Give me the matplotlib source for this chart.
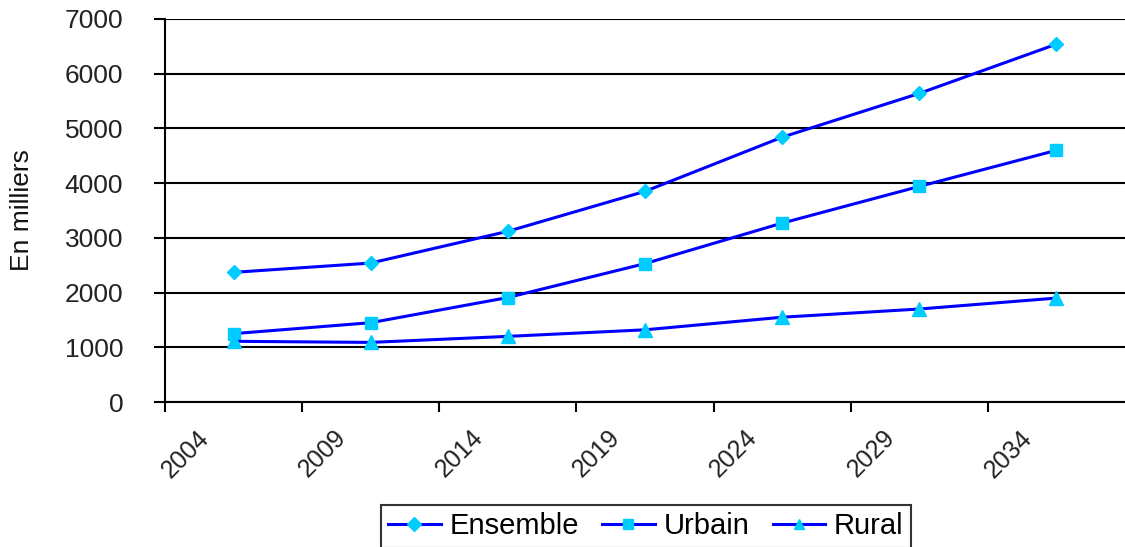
"""Population projection chart: Ensemble / Urbain / Rural (en milliers)."""

import matplotlib
matplotlib.use("Agg")
import matplotlib.pyplot as plt
import matplotlib.transforms as mtrans

plt.rcParams["font.family"] = ["Liberation Sans", "DejaVu Sans"]

# data
years = ["2004", "2009", "2014", "2019", "2024", "2029", "2034"]
ensemble = [2370, 2540, 3120, 3850, 4840, 5640, 6540]
urbain = [1250, 1450, 1910, 2530, 3270, 3940, 4600]
rural = [1110, 1090, 1200, 1320, 1550, 1700, 1900]

LINE = "#0000FF"
MARK = "#00CCFF"


def main() -> None:
    fig = plt.figure(figsize=(11.25, 5.47), dpi=100)
    ax = fig.add_axes([0.1467, 0.265, 0.8533, 0.7003])

    x = list(range(len(ensemble)))
    series = [
        ("Ensemble", ensemble, "D", 7.5),
        ("Urbain", urbain, "s", 9),
        ("Rural", rural, "^", 10),
    ]
    for name, vals, mk, ms in series:
        ax.plot(x, vals, color=LINE, lw=2.2, marker=mk, ms=ms,
                mfc=MARK, mec=MARK, label=name, zorder=3)

    ax.set_xlim(-0.5, 6.5)
    ax.set_ylim(0, 7000)
    ax.set_yticks(range(0, 7001, 1000))
    ax.yaxis.grid(True, color="black", lw=1.5)
    ax.set_axisbelow(True)

    # category ticks sit between the points; labels drawn by hand so they can be offset
    ticks = [i - 0.5 for i in x]
    ax.set_xticks(ticks)
    ax.set_xticklabels([])
    off = mtrans.ScaledTranslation(40 / 100, -32 / 100, fig.dpi_scale_trans)
    for t, lab in zip(ticks, years):
        ax.text(t, 0, lab, transform=ax.get_xaxis_transform() + off,
                rotation=45, rotation_mode="anchor", ha="right", va="center",
                fontsize=18, color="#222222", clip_on=False)

    ax.tick_params(axis="y", direction="out", length=8, width=1.5,
                   pad=22, labelsize=19, labelcolor="#222222")
    ax.tick_params(axis="x", direction="out", length=7, width=1.5)

    for side in ["top", "right"]:
        ax.spines[side].set_visible(False)
    for side in ["left", "bottom"]:
        ax.spines[side].set_linewidth(1.5)
        ax.spines[side].set_color("black")

    fig.text(0.02, 0.616, "En milliers", rotation=90, fontsize=19,
             ha="center", va="center", color="#111111")

    leg = fig.legend(loc="upper center", bbox_to_anchor=(0.574, 0.0768),
                     ncol=3, fontsize=21, frameon=True, fancybox=False,
                     edgecolor="black", handlelength=1.8, handletextpad=0.3,
                     columnspacing=0.8, borderpad=0.25, borderaxespad=0)
    leg.get_frame().set_linewidth(1.5)
    for h in leg.legend_handles:
        h.set_markersize(7)

    fig.savefig("out.png", dpi=100)


if __name__ == "__main__":
    main()
